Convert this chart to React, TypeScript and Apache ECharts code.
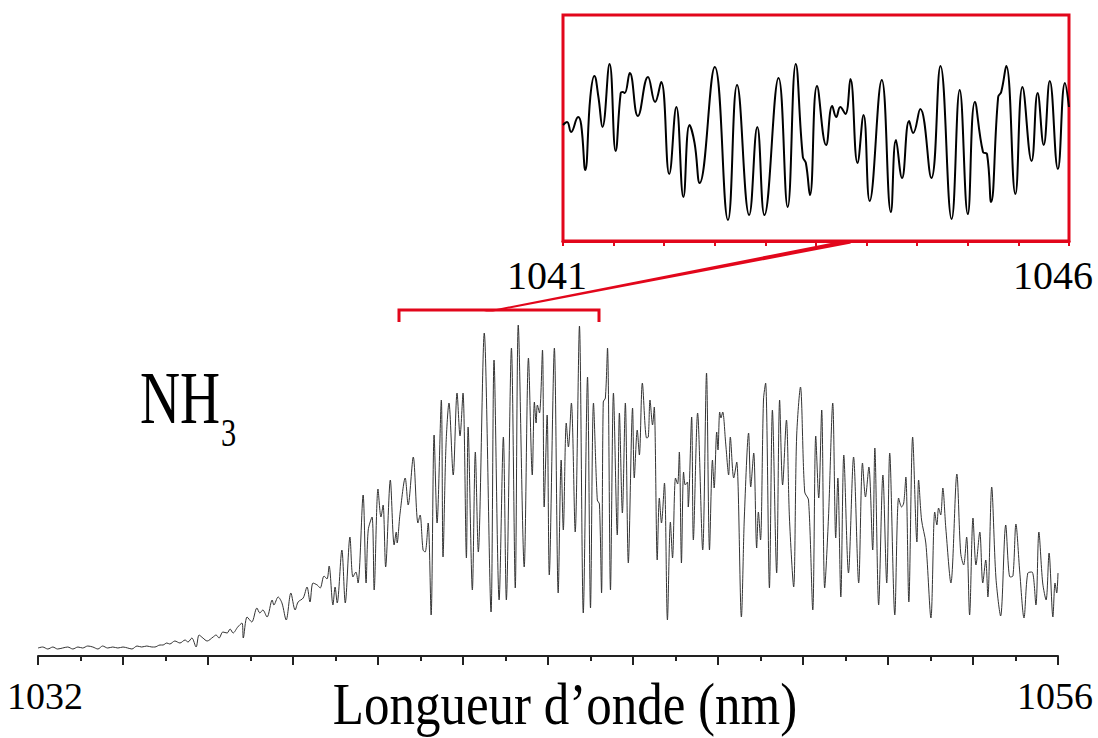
import React, { useEffect, useRef } from 'react';
import * as echarts from 'echarts';

// Main spectrum: wavelength (nm) and intensity (arb. units)
const mainWavelength = [
  1032.00, 1032.11, 1032.23, 1032.35, 1032.46, 1032.58, 1032.70, 1032.82, 1032.94, 1033.05,
  1033.17, 1033.29, 1033.41, 1033.52, 1033.64, 1033.76, 1033.88, 1034.00, 1034.11, 1034.21,
  1034.33, 1034.44, 1034.56, 1034.68, 1034.75, 1034.87, 1034.94, 1035.03, 1035.10, 1035.22,
  1035.34, 1035.46, 1035.53, 1035.62, 1035.72, 1035.79, 1035.88, 1035.98, 1036.12, 1036.19,
  1036.26, 1036.35, 1036.45, 1036.52, 1036.59, 1036.70, 1036.80, 1036.83, 1036.92, 1037.03,
  1037.15, 1037.22, 1037.29, 1037.39, 1037.51, 1037.55, 1037.65, 1037.74, 1037.84, 1037.95,
  1038.05, 1038.12, 1038.24, 1038.33, 1038.40, 1038.47, 1038.57, 1038.64, 1038.73, 1038.80,
  1038.85, 1038.94, 1038.99, 1039.04, 1039.15, 1039.23, 1039.34, 1039.41, 1039.48, 1039.53,
  1039.65, 1039.72, 1039.77, 1039.86, 1039.91, 1040.00, 1040.07, 1040.12, 1040.18, 1040.29,
  1040.38, 1040.43, 1040.45, 1040.52, 1040.64, 1040.71, 1040.83, 1040.94, 1040.99, 1041.06,
  1041.11, 1041.18, 1041.25, 1041.32, 1041.39, 1041.49, 1041.53, 1041.60, 1041.67, 1041.77,
  1041.86, 1041.93, 1042.00, 1042.08, 1042.12, 1042.22, 1042.29, 1042.36, 1042.50, 1042.66,
  1042.73, 1042.85, 1042.95, 1043.02, 1043.14, 1043.23, 1043.30, 1043.44, 1043.54, 1043.63,
  1043.68, 1043.72, 1043.75, 1043.80, 1043.87, 1043.91, 1043.98, 1044.03, 1044.15, 1044.24,
  1044.31, 1044.36, 1044.43, 1044.48, 1044.55, 1044.64, 1044.74, 1044.83, 1044.93, 1045.00,
  1045.07, 1045.16, 1045.21, 1045.26, 1045.30, 1045.35, 1045.40, 1045.47, 1045.54, 1045.63,
  1045.68, 1045.75, 1045.82, 1045.89, 1045.99, 1046.03, 1046.10, 1046.15, 1046.22, 1046.32,
  1046.36, 1046.40, 1046.46, 1046.50, 1046.57, 1046.62, 1046.67, 1046.74, 1046.81, 1046.88,
  1046.93, 1047.00, 1047.05, 1047.09, 1047.14, 1047.19, 1047.23, 1047.28, 1047.30, 1047.38,
  1047.42, 1047.52, 1047.64, 1047.73, 1047.80, 1047.87, 1047.91, 1047.97, 1048.00, 1048.04,
  1048.07, 1048.11, 1048.18, 1048.25, 1048.29, 1048.37, 1048.44, 1048.55, 1048.62, 1048.72,
  1048.77, 1048.84, 1048.91, 1048.95, 1049.00, 1049.07, 1049.12, 1049.21, 1049.28, 1049.38,
  1049.45, 1049.52, 1049.61, 1049.68, 1049.78, 1049.85, 1049.94, 1050.04, 1050.13, 1050.23,
  1050.30, 1050.37, 1050.44, 1050.51, 1050.60, 1050.70, 1050.77, 1050.82, 1050.89, 1050.96,
  1051.07, 1051.19, 1051.31, 1051.40, 1051.47, 1051.55, 1051.64, 1051.69, 1051.78, 1051.88,
  1051.97, 1052.04, 1052.16, 1052.25, 1052.32, 1052.37, 1052.42, 1052.49, 1052.58, 1052.68,
  1052.72, 1052.79, 1052.89, 1053.01, 1053.10, 1053.15, 1053.19, 1053.24, 1053.29, 1053.36,
  1053.48, 1053.62, 1053.71, 1053.78, 1053.85, 1053.92, 1054.00, 1054.07, 1054.16, 1054.23,
  1054.30, 1054.35, 1054.44, 1054.54, 1054.65, 1054.77, 1054.87, 1054.94, 1055.01, 1055.10,
  1055.20, 1055.29, 1055.39, 1055.48, 1055.55, 1055.64, 1055.72, 1055.79, 1055.88, 1055.93,
  1055.97, 1056.00,
];
const mainIntensity = [
  8, 9, 7, 9, 7, 8, 9, 7, 9, 8,
  10, 9, 7, 10, 8, 9, 8, 9, 8, 7,
  10, 9, 10, 9, 9, 11, 11, 13, 12, 15,
  13, 16, 14, 18, 9, 21, 18, 15, 19, 21,
  18, 24, 23, 27, 23, 29, 33, 18, 39, 34,
  48, 43, 46, 39, 56, 51, 59, 53, 36, 63,
  46, 54, 58, 69, 54, 73, 71, 68, 80, 77,
  90, 51, 69, 53, 106, 53, 119, 79, 84, 73,
  161, 73, 126, 139, 66, 167, 139, 151, 89, 176,
  111, 124, 113, 143, 178, 151, 199, 133, 141, 106,
  104, 133, 41, 221, 133, 256, 99, 211, 253, 181,
  263, 220, 263, 98, 229, 66, 204, 104, 323, 44,
  296, 56, 219, 56, 308, 68, 331, 89, 298, 181,
  254, 233, 251, 243, 306, 149, 241, 81, 308, 63,
  196, 126, 233, 209, 253, 124, 330, 43, 279, 48,
  253, 156, 152, 63, 254, 258, 308, 66, 263, 121,
  243, 143, 253, 93, 248, 178, 226, 201, 273, 218,
  219, 256, 231, 249, 96, 158, 133, 173, 36, 134,
  98, 178, 172, 204, 93, 184, 171, 174, 149, 239,
  116, 243, 106, 283, 106, 196, 168, 224, 206, 244,
  238, 244, 213, 181, 219, 178, 194, 39, 139, 223,
  169, 203, 108, 144, 116, 256, 273, 68, 246, 83,
  256, 171, 236, 139, 69, 219, 269, 164, 156, 46,
  220, 158, 246, 68, 139, 253, 118, 178, 59, 201,
  83, 199, 73, 193, 159, 189, 106, 208, 51, 181,
  73, 203, 41, 158, 149, 153, 179, 54, 219, 114,
  176, 136, 113, 38, 144, 131, 148, 141, 168, 128,
  73, 182, 103, 91, 119, 41, 138, 91, 124, 73,
  96, 59, 169, 78, 40, 131, 79, 80, 132, 84,
  38, 83, 84, 51, 124, 73, 56, 103, 39, 73,
  63, 83,
];

// Zoomed inset (1041 - 1046 nm)
const insetWavelength = [
  1041.00, 1041.04, 1041.08, 1041.15, 1041.18, 1041.22, 1041.27, 1041.31, 1041.35, 1041.39,
  1041.46, 1041.52, 1041.57, 1041.59, 1041.61, 1041.66, 1041.74, 1041.84, 1041.91, 1041.97,
  1042.05, 1042.12, 1042.19, 1042.25, 1042.30, 1042.35, 1042.50, 1042.63, 1042.72, 1042.84,
  1042.92, 1042.99, 1043.13, 1043.22, 1043.30, 1043.37, 1043.40, 1043.44, 1043.51, 1043.60,
  1043.66, 1043.70, 1043.74, 1043.79, 1043.84, 1043.91, 1043.97, 1044.03, 1044.15, 1044.24,
  1044.29, 1044.35, 1044.42, 1044.46, 1044.53, 1044.64, 1044.73, 1044.84, 1044.92, 1045.00,
  1045.07, 1045.15, 1045.19, 1045.23, 1045.30, 1045.33, 1045.38, 1045.47, 1045.54, 1045.63,
  1045.69, 1045.75, 1045.81, 1045.89, 1045.96, 1046.00,
];
const insetIntensity = [
  116, 119, 109, 124, 116, 71, 144, 165, 144, 114,
  177, 90, 148, 149, 148, 168, 125, 164, 139, 159,
  67, 134, 44, 116, 98, 58, 174, 21, 156, 26,
  114, 26, 163, 34, 177, 84, 78, 46, 155, 96,
  135, 124, 134, 127, 162, 78, 126, 40, 161, 29,
  101, 63, 120, 108, 132, 63, 175, 22, 151, 27,
  139, 89, 87, 39, 144, 149, 175, 47, 154, 80,
  148, 96, 160, 72, 158, 134,
];

const mainTickLabels = [1032, 1056];
const insetTickLabels = [1041, 1046];
const xTitle = 'Longueur d’onde (nm)';
const moleculeMain = 'NH';
const moleculeSub = '3';

const RED = '#E2061B';
const INK = '#222';
const SERIF = '"Liberation Serif", "Times New Roman", serif';

const isLabel = (v: number, list: number[]) =>
  Math.abs(v - Math.round(v)) < 1e-6 && list.includes(Math.round(v));

export default function App() {
  const ref = useRef<HTMLDivElement>(null);

  useEffect(() => {
    if (!ref.current) return;
    const chart = echarts.init(ref.current, null, { renderer: 'svg' });
    chart.setOption({
      animation: false,
      backgroundColor: '#ffffff',
      grid: [
        { left: 38, top: 296, width: 1020, height: 360, containLabel: false, outerBoundsMode: 'none' },
        {
          left: 563, top: 15, width: 506, height: 226, containLabel: false, outerBoundsMode: 'none',
          show: true, borderColor: RED, borderWidth: 3, backgroundColor: 'transparent',
        },
      ],
      xAxis: [
        {
          gridIndex: 0, type: 'value', min: 1032, max: 1056, interval: 2,
          axisLine: { show: true, onZero: false, lineStyle: { color: INK, width: 2 } },
          axisTick: { show: true, length: 9, lineStyle: { color: INK, width: 2 } },
          minorTick: { show: true, splitNumber: 2, length: 5, lineStyle: { color: INK, width: 2 } },
          splitLine: { show: false },
          minorSplitLine: { show: false },
          axisLabel: {
            show: true, showMinLabel: true, showMaxLabel: true, margin: 21,
            fontFamily: SERIF, fontSize: 38, color: '#000',
            formatter: (v: number) => {
              if (!isLabel(v, mainTickLabels)) return '';
              const r = Math.round(v);
              return r === mainTickLabels[0] ? `{first|${r}}` : `{last|${r}}`;
            },
            rich: {
              first: { fontFamily: SERIF, fontSize: 38, color: '#000', padding: [0, 0, 0, 14] },
              last: { fontFamily: SERIF, fontSize: 38, color: '#000', padding: [0, 6, 0, 0] },
            },
          },
        },
        {
          gridIndex: 1, type: 'value', min: 1041, max: 1046, interval: 0.5,
          axisLine: { show: true, onZero: false, lineStyle: { color: RED, width: 3 } },
          axisTick: { show: true, length: 5, lineStyle: { color: RED, width: 2 } },
          splitLine: { show: false },
          axisLabel: {
            show: true, showMinLabel: true, showMaxLabel: true, margin: 14,
            padding: [0, 32, 0, 0],
            fontFamily: SERIF, fontSize: 40, color: '#000',
            formatter: (v: number) => (isLabel(v, insetTickLabels) ? String(Math.round(v)) : ''),
          },
        },
      ],
      yAxis: [
        { gridIndex: 0, type: 'value', min: 0, max: 360, show: false, splitLine: { show: false } },
        { gridIndex: 1, type: 'value', min: 0, max: 226, show: false, splitLine: { show: false } },
      ],
      series: [
        {
          type: 'line', xAxisIndex: 0, yAxisIndex: 0,
          data: mainWavelength.map((w, i) => [w, mainIntensity[i]]),
          showSymbol: false, symbol: 'none', smooth: 0.3, silent: true,
          lineStyle: { color: '#333', width: 1 },
        },
        {
          type: 'line', xAxisIndex: 1, yAxisIndex: 1,
          data: insetWavelength.map((w, i) => [w, insetIntensity[i]]),
          showSymbol: false, symbol: 'none', smooth: 0.45, silent: true,
          lineStyle: { color: '#000', width: 2 },
        },
      ],
      graphic: [
        {
          type: 'polyline', silent: true,
          shape: { points: [[399, 322], [399, 310], [599, 310], [599, 322]] },
          style: { stroke: RED, lineWidth: 3, fill: null },
        },
        {
          type: 'polygon', silent: true,
          shape: { points: [[484, 311.5], [846, 240], [851, 243.5], [493, 311.5]] },
          style: { fill: RED },
        },
        {
          type: 'text', x: 565, y: 704, scaleX: 0.85, silent: true,
          style: {
            text: xTitle, font: `60px ${SERIF}`, fill: '#000',
            textAlign: 'center', textVerticalAlign: 'middle', align: 'center', verticalAlign: 'middle',
          },
        },
        {
          type: 'text', x: 140, y: 397, scaleX: 0.74, silent: true,
          style: {
            text: moleculeMain, font: `75px ${SERIF}`, fill: '#000',
            textAlign: 'left', textVerticalAlign: 'middle', align: 'left', verticalAlign: 'middle',
          },
        },
        {
          type: 'text', x: 221, y: 432, scaleX: 0.76, silent: true,
          style: {
            text: moleculeSub, font: `40px ${SERIF}`, fill: '#000',
            textAlign: 'left', textVerticalAlign: 'middle', align: 'left', verticalAlign: 'middle',
          },
        },
      ],
    });
    return () => chart.dispose();
  }, []);

  return (
    <div
      ref={ref}
      style={{ position: 'fixed', left: 0, top: 0, width: 1098, height: 738, background: '#fff' }}
    />
  );
}
